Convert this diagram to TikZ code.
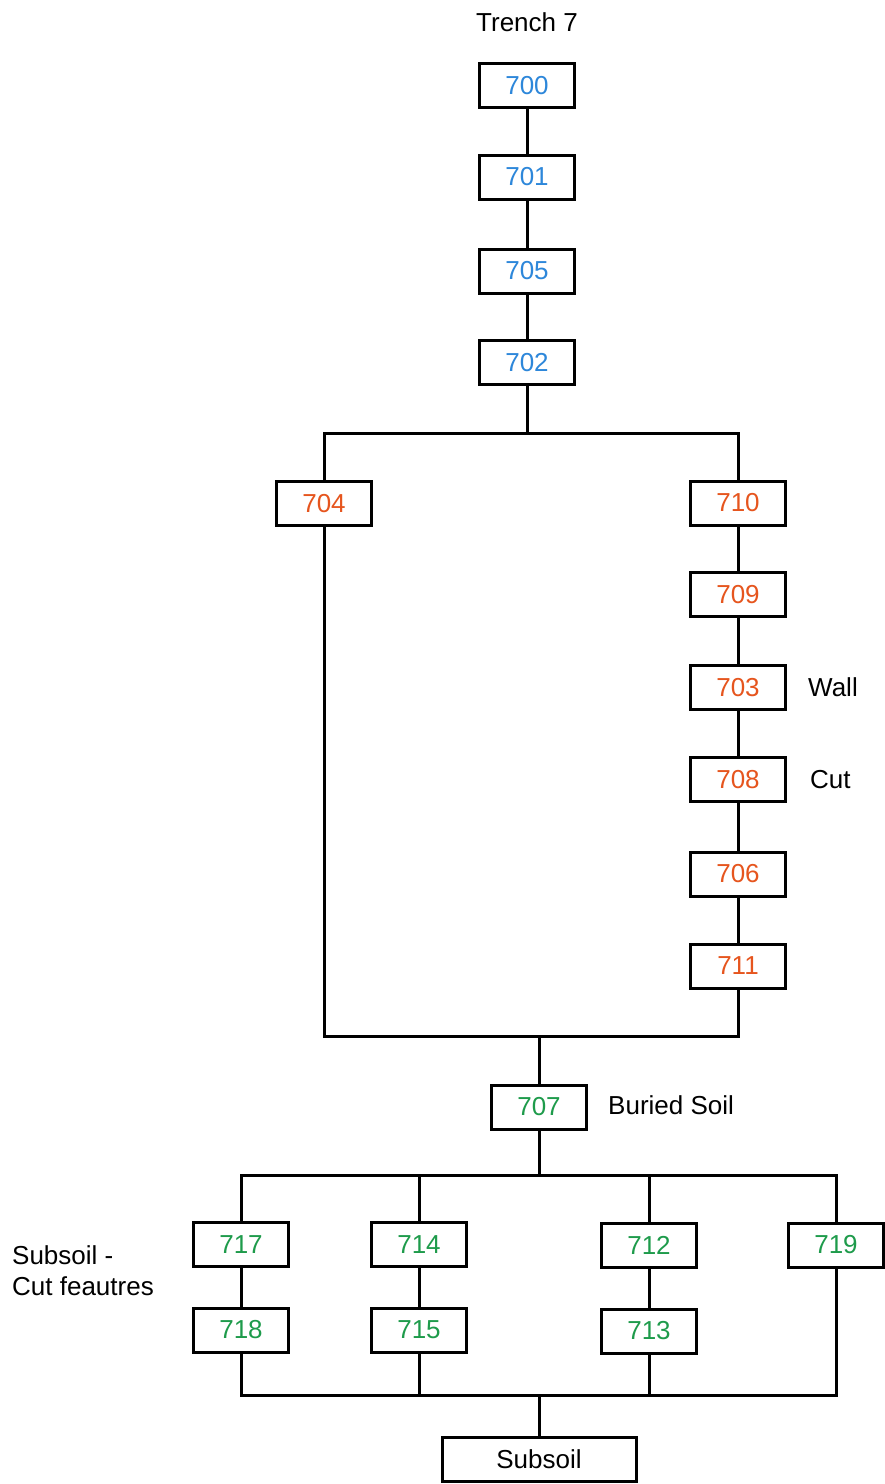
\documentclass[tikz,border=0pt]{standalone}
\usepackage{fontspec}
\setmainfont{Liberation Sans}
\definecolor{cblue}{RGB}{45,135,218}
\definecolor{corange}{RGB}{230,85,30}
\definecolor{cgreen}{RGB}{30,155,75}
\begin{document}
\begin{tikzpicture}[x=1pt,y=-1pt,
  every node/.style={font=\fontsize{26}{31}\selectfont},
  ctx/.style={draw=black,line width=3pt,minimum width=95pt,minimum height=44pt,inner sep=0pt,fill=white},
  bluebox/.style={ctx,text=cblue},
  orbox/.style={ctx,text=corange},
  grbox/.style={ctx,text=cgreen},
  lbl/.style={anchor=west,inner sep=0pt,text=black},
  conn/.style={line width=3pt,line cap=rect}]
\useasboundingbox (0,0) rectangle (885,1484);
\fill[white] (0,0) rectangle (885,1484);
\node[inner sep=0pt] (title) at (527,22) {Trench 7};
\node[bluebox] (n700) at (527,85.5) {700};
\node[bluebox] (n701) at (527,177) {701};
\node[bluebox] (n705) at (527,271) {705};
\node[bluebox] (n702) at (527,362.5) {702};
\node[orbox] (n704) at (324,503.5) {704};
\node[orbox] (n710) at (738,503) {710};
\node[orbox] (n709) at (738,594.5) {709};
\node[orbox] (n703) at (738,687.5) {703};
\node[orbox] (n708) at (738,779.5) {708};
\node[orbox] (n706) at (738,874) {706};
\node[orbox] (n711) at (738,966) {711};
\node[grbox] (n707) at (539,1107) {707};
\node[grbox] (n717) at (241,1244.5) {717};
\node[grbox] (n714) at (419,1244.5) {714};
\node[grbox] (n712) at (649,1245.5) {712};
\node[grbox] (n719) at (836,1245) {719};
\node[grbox] (n718) at (241,1330) {718};
\node[grbox] (n715) at (419,1330) {715};
\node[grbox] (n713) at (649,1331) {713};
\node[ctx,minimum width=194pt,text=black] (sub) at (539,1459.5) {Subsoil};
\node[lbl] (wall) at (808,687.5) {Wall};
\node[lbl] (cut) at (810,779.5) {Cut};
\node[lbl] (bur) at (608,1105) {Buried Soil};
\node[lbl,align=left] (subl) at (12,1271) {Subsoil -\\Cut feautres};
\coordinate (j1) at (527,433.5);
\coordinate (j2) at (539,1036.5);
\coordinate (j3) at (539,1175.5);
\coordinate (j4) at (539,1395);
\draw[conn] (n700) -- (n701);
\draw[conn] (n701) -- (n705);
\draw[conn] (n705) -- (n702);
\draw[conn] (n702.south) -- (j1);
\draw[conn] (n704.north) |- (j1) -| (n710.north);
\draw[conn] (n710) -- (n709);
\draw[conn] (n709) -- (n703);
\draw[conn] (n703) -- (n708);
\draw[conn] (n708) -- (n706);
\draw[conn] (n706) -- (n711);
\draw[conn] (n704.south) |- (j2) -| (n711.south);
\draw[conn] (j2) -- (n707.north);
\draw[conn] (n707.south) -- (j3);
\draw[conn] (n717.north) |- (j3) -| (n719.north);
\draw[conn] (n714.north) -- (n714.north |- j3);
\draw[conn] (n712.north) -- (n712.north |- j3);
\draw[conn] (n717) -- (n718);
\draw[conn] (n714) -- (n715);
\draw[conn] (n712) -- (n713);
\draw[conn] (n718.south) |- (j4) -| (n719.south);
\draw[conn] (n715.south) -- (n715.south |- j4);
\draw[conn] (n713.south) -- (n713.south |- j4);
\draw[conn] (j4) -- (sub.north);
\end{tikzpicture}
\end{document}
